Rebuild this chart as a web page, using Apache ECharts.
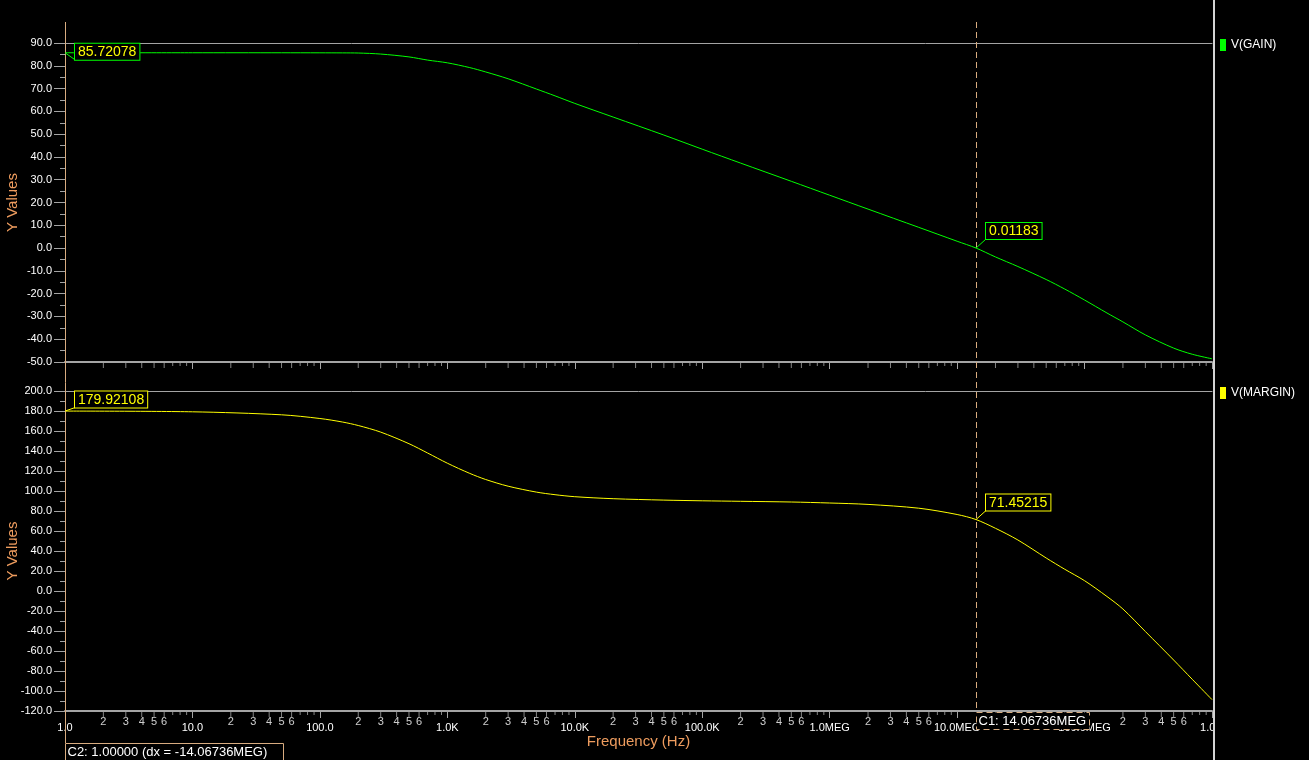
<!DOCTYPE html>
<html><head><meta charset="utf-8">
<script src="https://cdn.jsdelivr.net/npm/echarts@6/dist/echarts.min.js"></script>
<style>html,body{margin:0;padding:0;background:#000;overflow:hidden}#c{width:1309px;height:760px}</style>
</head><body><div id="c"></div>
<script>
// ---------- data ----------
const freqHz = [1, 10, 50, 100, 150, 200, 300, 500, 700, 1e3, 1.5e3, 2e3, 3e3, 5e3, 7e3, 1e4, 2e4, 5e4, 1e5, 2e5, 5e5, 1e6, 2e6, 5e6, 1e7, 14.06736e6, 2e7, 3e7, 5e7, 7e7, 1e8, 1.5e8, 2e8, 3e8, 5e8, 7e8, 1e9];
const gainDb = [85.72078, 85.72, 85.71, 85.69, 85.66, 85.6, 85.15, 83.9, 82.5, 81.3, 79.2, 77.3, 74.3, 69.8, 66.8, 63.5, 57.5, 49.6, 43.4, 37.3, 29.3, 23.2, 17.1, 9.1, 3.0, 0.01183, -3.9, -8.1, -13.8, -18.0, -22.8, -28.5, -32.4, -38.1, -43.9, -46.6, -48.6];
const marginDeg = [179.92108, 179.2, 176.2, 172.5, 169.0, 165.5, 158.9, 147.3, 138.0, 127.8, 117.6, 111.5, 104.8, 98.9, 96.3, 94.3, 92.3, 90.9, 90.2, 89.7, 89.0, 88.0, 86.6, 82.8, 76.5, 71.45215, 62.7, 51.0, 33.0, 21.7, 10.3, -5.5, -18.0, -40.5, -69.0, -88.3, -108.6];

const majorTickLabels = ['1.0', '10.0', '100.0', '1.0K', '10.0K', '100.0K', '1.0MEG', '10.0MEG', '100.0MEG', '1.0G'];
const decadeStarts = [1, 10, 100, 1e3, 1e4, 1e5, 1e6, 1e7, 1e8];
const minorLong = [2, 3, 4, 5, 6];
const minorShort = [7, 8, 9];
const minorLabelled = [2, 3, 4, 5, 6];

const gainMin = -50, gainMax = 90, gainStep = 10;
const marginMin = -120, marginMax = 200, marginStep = 20;
const freqMin = 1, freqMax = 1e9;

const cursorC1 = 14.06736e6;
const cursorC2 = 1;
const cursorC1Text = 'C1: 14.06736MEG';
const cursorC2Text = 'C2: 1.00000 (dx = -14.06736MEG)';
const gainAtC2 = 85.72078, gainAtC1 = 0.01183;
const marginAtC2 = 179.92108, marginAtC1 = 71.45215;
const gainName = 'V(GAIN)', marginName = 'V(MARGIN)';

// ---------- styles ----------
const FONT = '"Liberation Sans", Arial, sans-serif';
const GRAY = '#a4a4a4';
const ORANGE = '#ee9c5e';
const CURSOR = '#d8ac80';
const GREEN = '#00ff00', YELLOW = '#ffff00';

const chart = echarts.init(document.getElementById('c'), null, {renderer: 'canvas'});

function zip(xs, ys) { return xs.map((x, i) => [x, ys[i]]); }
function ticks(mults, y) {
  const out = [];
  decadeStarts.forEach(d => mults.forEach(m => out.push([d * m, y, m])));
  return out;
}
function xLabel(v) {
  const i = Math.round(Math.log10(v));
  return majorTickLabels[i] !== undefined ? majorTickLabels[i] : '';
}

function xAxisBase(gridIndex, showLabel, name) {
  return {
    type: 'log', logBase: 10, gridIndex, min: freqMin, max: freqMax, splitNumber: 9,
    position: 'bottom',
    axisLine: {show: true, onZero: false, lineStyle: {color: GRAY, width: 2}},
    axisTick: {show: true, length: 7, lineStyle: {color: GRAY}},
    axisLabel: {show: showLabel, formatter: xLabel, color: '#fff', fontSize: 11, fontFamily: FONT, margin: 11, showMinLabel: true, showMaxLabel: true},
    splitLine: {show: false},
    name: name || '', nameLocation: 'middle', nameGap: 23, nameMoveOverlap: false,
    nameTextStyle: {color: ORANGE, fontSize: 15, fontFamily: FONT}
  };
}
function xAxisTop(gridIndex) {
  return {
    type: 'log', logBase: 10, gridIndex, min: freqMin, max: freqMax, position: 'top',
    axisLine: {show: true, onZero: false, lineStyle: {color: GRAY, width: 1}},
    axisTick: {show: false}, axisLabel: {show: false}, splitLine: {show: false}
  };
}
function yAxisBase(gridIndex, min, max, step) {
  return {
    type: 'value', gridIndex, min, max, interval: step,
    axisLine: {show: true, onZero: false, lineStyle: {color: GRAY}},
    axisTick: {show: true, length: 11, lineStyle: {color: GRAY}},
    minorTick: {show: true, splitNumber: 2, length: 5, lineStyle: {color: GRAY}},
    axisLabel: {formatter: v => v.toFixed(1), color: '#fff', fontSize: 11, fontFamily: FONT, margin: 13},
    splitLine: {show: false},
    name: 'Y Values', nameLocation: 'middle', nameGap: 45, nameRotate: 90, nameMoveOverlap: false,
    nameTextStyle: {color: ORANGE, fontSize: 15, fontFamily: FONT}
  };
}
function tickSeries(xi, yi, data, len) {
  return {
    type: 'scatter', xAxisIndex: xi, yAxisIndex: yi, data, symbol: 'rect',
    symbolSize: [1, len], symbolOffset: [0, len / 2 + 1], clip: false, silent: true,
    itemStyle: {color: GRAY}, emphasis: {disabled: true}, z: 3
  };
}

const option = {
  backgroundColor: '#000',
  animation: false,
  textStyle: {fontFamily: FONT},
  grid: [
    {left: 65, right: 97, top: 43, height: 319, containLabel: false, outerBoundsMode: 'none'},
    {left: 65, right: 97, top: 391, height: 320, containLabel: false, outerBoundsMode: 'none'}
  ],
  xAxis: [
    xAxisBase(0, false),
    xAxisBase(1, true, 'Frequency (Hz)'),
    xAxisTop(0),
    xAxisTop(1)
  ],
  yAxis: [
    yAxisBase(0, gainMin, gainMax, gainStep),
    yAxisBase(1, marginMin, marginMax, marginStep)
  ],
  legend: [
    {data: [gainName], left: 1215, top: 34, icon: 'rect', itemWidth: 6, itemHeight: 12, itemGap: 6,
     textStyle: {color: '#fff', fontSize: 12, fontFamily: FONT}, selectedMode: false, z: 100},
    {data: [marginName], left: 1215, top: 382, icon: 'rect', itemWidth: 6, itemHeight: 12, itemGap: 6,
     textStyle: {color: '#fff', fontSize: 12, fontFamily: FONT}, selectedMode: false, z: 100}
  ],
  series: [
    {name: gainName, type: 'line', xAxisIndex: 0, yAxisIndex: 0, data: zip(freqHz, gainDb),
     symbol: 'none', smooth: 0.3, color: GREEN, lineStyle: {color: GREEN, width: 1}, itemStyle: {color: GREEN}, z: 5},
    {name: marginName, type: 'line', xAxisIndex: 1, yAxisIndex: 1, data: zip(freqHz, marginDeg),
     symbol: 'none', smooth: 0.3, color: YELLOW, lineStyle: {color: YELLOW, width: 1}, itemStyle: {color: YELLOW}, z: 5},
    tickSeries(0, 0, ticks(minorLong, gainMin), 5),
    tickSeries(0, 0, ticks(minorShort, gainMin), 3),
    tickSeries(1, 1, ticks(minorLong, marginMin), 5),
    tickSeries(1, 1, ticks(minorShort, marginMin), 3),
    {type: 'scatter', xAxisIndex: 1, yAxisIndex: 1, data: ticks(minorLabelled, marginMin),
     symbol: 'rect', symbolSize: 1, clip: false, silent: true, itemStyle: {color: 'transparent'},
     label: {show: true, position: 'bottom', distance: 5, formatter: p => String(p.value[2]), color: '#fff', fontSize: 11, fontFamily: FONT},
     emphasis: {disabled: true}}
  ]
};
chart.setOption(option);

// ---------- overlays positioned through the chart's own scales ----------
const px = (axis, v) => chart.convertToPixel({xAxisIndex: axis}, v);
const py = (axis, v) => chart.convertToPixel({yAxisIndex: axis}, v);
const snap = v => Math.round(v) + 0.5;
const c1x = snap(px(0, cursorC1));
const c2x = snap(px(0, cursorC2));
const topY = 22;
const axisBottomY = py(1, marginMin);

function annotation(xv, yv, yAxisIdx, text, border, dx, dy) {
  const x0 = px(0, xv), y0 = py(yAxisIdx, yv);
  const bx = x0 + dx, by = y0 + dy;
  return [
    {type: 'line', shape: {x1: x0, y1: y0, x2: bx, y2: by}, style: {stroke: border, lineWidth: 1}, z: 70},
    {type: 'text', x: bx, y: by, z: 71,
     style: {text, fill: YELLOW, font: '14px ' + FONT, align: 'left', verticalAlign: 'bottom',
             backgroundColor: '#000', borderColor: border, borderWidth: 1, padding: [1, 3, 0, 3], lineHeight: 15}}
  ];
}

const elements = [
  {type: 'rect', shape: {x: 1213, y: 0, width: 96, height: 760}, style: {fill: '#000'}, z: 50},
  {type: 'line', shape: {x1: 1214, y1: 0, x2: 1214, y2: 760}, style: {stroke: '#d4d4d4', lineWidth: 2}, z: 51},
  {type: 'line', shape: {x1: c2x, y1: topY, x2: c2x, y2: 743}, style: {stroke: CURSOR, lineWidth: 1}, z: 60},
  {type: 'line', shape: {x1: c1x, y1: topY, x2: c1x, y2: axisBottomY + 1}, style: {stroke: CURSOR, lineWidth: 1, lineDash: [6, 4]}, z: 60},
  {type: 'rect', shape: {x: c1x, y: axisBottomY + 1.5, width: 113, height: 17}, style: {fill: '#000', stroke: CURSOR, lineWidth: 1, lineDash: [6, 4]}, z: 61},
  {type: 'text', x: c1x + 2, y: axisBottomY + 10, z: 62, style: {text: cursorC1Text, fill: '#fff', font: '13px ' + FONT, verticalAlign: 'middle'}},
  {type: 'rect', shape: {x: c2x, y: 743.5, width: 218, height: 20}, style: {fill: '#000', stroke: CURSOR, lineWidth: 1}, z: 61},
  {type: 'text', x: c2x + 2, y: 752, z: 62, style: {text: cursorC2Text, fill: '#fff', font: '13px ' + FONT, verticalAlign: 'middle'}}
].concat(
  annotation(cursorC2, gainAtC2, 0, gainAtC2.toFixed(5), GREEN, 10, 7),
  annotation(cursorC1, gainAtC1, 0, gainAtC1.toFixed(5), GREEN, 10, -9),
  annotation(cursorC2, marginAtC2, 1, marginAtC2.toFixed(5), YELLOW, 10, -3.5),
  annotation(cursorC1, marginAtC1, 1, marginAtC1.toFixed(5), YELLOW, 10, -9)
);
chart.setOption({graphic: {elements}});
</script>
</body></html>
